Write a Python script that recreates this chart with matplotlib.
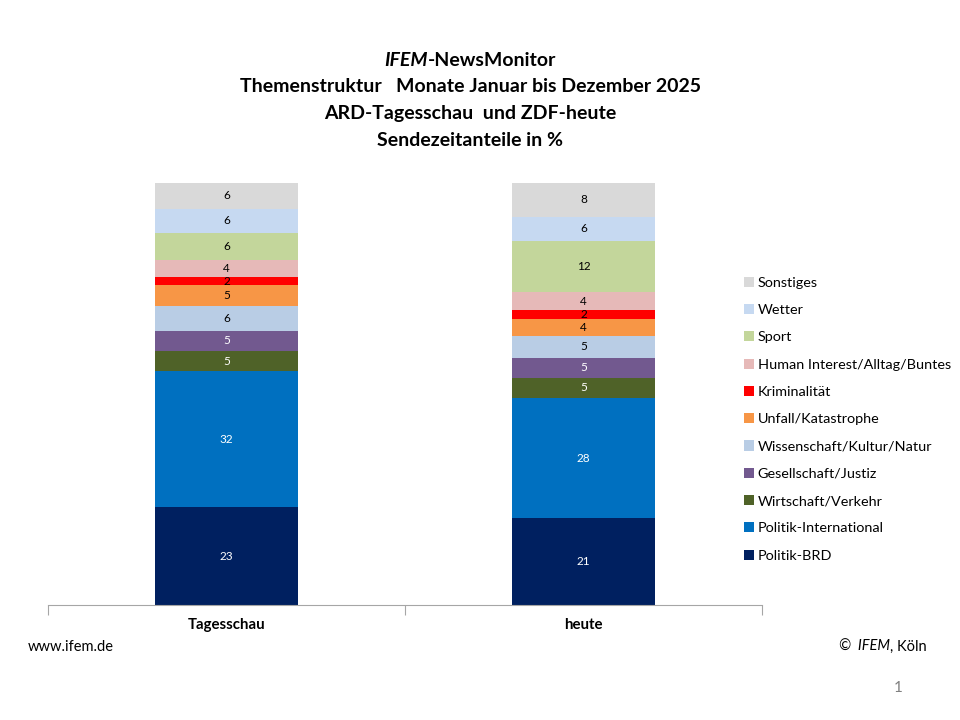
import matplotlib
matplotlib.use("Agg")
import matplotlib.pyplot as plt
import numpy as np

plt.rcParams['font.family'] = ['Lato', 'DejaVu Sans']

categories = ["Tagesschau", "heute"]
topics = ["Politik-BRD", "Politik-International", "Wirtschaft/Verkehr", "Gesellschaft/Justiz",
          "Wissenschaft/Kultur/Natur", "Unfall/Katastrophe", "Kriminalität",
          "Human Interest/Alltag/Buntes", "Sport", "Wetter", "Sonstiges"]
tagesschau = [23.2, 32.2, 4.8, 4.8, 5.9, 4.9, 1.9, 4.0, 6.4, 5.8, 6.1]
heute = [20.6, 28.4, 4.9, 4.6, 5.3, 4.0, 2.1, 4.2, 12.2, 5.7, 8.0]
colors = ["#002060", "#0070C0", "#4F6228", "#72598F", "#B9CDE5", "#F79646", "#FF0000",
          "#E6B9B8", "#C3D69B", "#C6D9F1", "#D9D9D9"]
label_colors = ["white", "white", "white", "white", "black", "black", "black",
                "black", "black", "black", "black"]

fig = plt.figure(figsize=(9.6, 7.2), dpi=100)
ax = fig.add_axes([0.05, 1 - 605 / 720, 0.74375, (605 - 183) / 720])

data = np.array([tagesschau, heute])
x = np.arange(len(categories))
bottom = np.zeros(len(categories))
handles = []
for i, t in enumerate(topics):
    vals = data[:, i]
    b = ax.bar(x, vals, 0.4, bottom=bottom, color=colors[i], label=t, linewidth=0)
    handles.append(b)
    for xi, v, bo in zip(x, vals, bottom):
        ax.text(xi, bo + v / 2, f"{round(v):d}", ha="center", va="center",
                fontsize=8.5, color=label_colors[i])
    bottom += vals

ax.set_xlim(-0.5, 1.5)
ax.set_ylim(0, 100)
ax.set_yticks([])
for s in ["top", "right", "left"]:
    ax.spines[s].set_visible(False)
ax.spines["bottom"].set_color("#A6A6A6")
ax.set_xticks([-0.5, 0.5, 1.5], minor=False)
ax.set_xticklabels([])
ax.tick_params(axis="x", which="major", length=7, color="#A6A6A6", direction="out")
for xi, c in zip(x, categories):
    ax.text(xi, -4.7, c, ha="center", va="center", fontsize=10.8, fontweight="bold")

leg = fig.legend(handles[::-1], topics[::-1], loc="upper left",
                 bbox_to_anchor=(738 / 960, 1 - 271 / 720), frameon=False,
                 fontsize=10.4, handlelength=0.7, handleheight=0.7, handletextpad=0.25,
                 labelspacing=1.05, borderaxespad=0)

# Title
tx = 0.49
fs = 14
lines_y = [1 - 61 / 720, 1 - 87 / 720, 1 - 114 / 720, 1 - 140 / 720]
fig.canvas.draw()
r = fig.canvas.get_renderer()
t1 = fig.text(0, lines_y[0], "IFEM", fontsize=fs, fontweight="bold", style="italic", va="center")
t2 = fig.text(0, lines_y[0], "-NewsMonitor", fontsize=fs, fontweight="bold", va="center")
w1 = t1.get_window_extent(r).width / fig.bbox.width
w2 = t2.get_window_extent(r).width / fig.bbox.width
start = tx - (w1 + w2) / 2
t1.set_x(start)
t2.set_x(start + w1)
fig.text(tx, lines_y[1], "Themenstruktur   Monate Januar bis Dezember 2025", fontsize=fs,
         fontweight="bold", ha="center", va="center")
fig.text(tx, lines_y[2], "ARD-Tagesschau  und ZDF-heute", fontsize=fs,
         fontweight="bold", ha="center", va="center")
fig.text(tx, lines_y[3], "Sendezeitanteile in %", fontsize=fs,
         fontweight="bold", ha="center", va="center")

# Footer
fig.text(28 / 960, 1 - 647 / 720, "www.ifem.de", fontsize=10.5, va="center")
c2 = fig.text(927 / 960, 1 - 647 / 720, ", Köln", fontsize=10.5, va="center", ha="right")
w = c2.get_window_extent(r).width / fig.bbox.width
c1 = fig.text(927 / 960 - w, 1 - 647 / 720, "©  IFEM", fontsize=10.5, va="center", ha="right",
              style="italic")
fig.text(898 / 960, 1 - 688 / 720, "1", fontsize=11, color="#808080", va="center", ha="center")

fig.savefig("out.png", dpi=100)
